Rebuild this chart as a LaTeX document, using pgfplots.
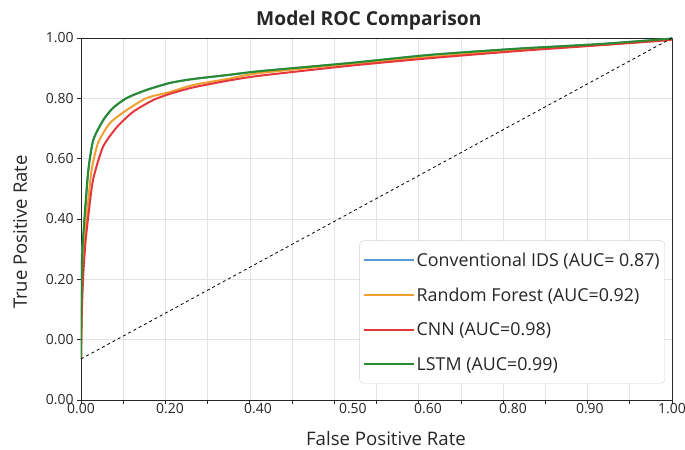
\documentclass[border=0pt]{standalone}
\usepackage{fontspec}
\setmainfont{Open Sans}
\usepackage{pgfplots}
\pgfplotsset{compat=1.18}
\definecolor{cblue}{HTML}{5B9BD5}
\definecolor{corange}{HTML}{F0A030}
\definecolor{cred}{HTML}{E5383D}
\definecolor{cgreen}{HTML}{2A8A2E}
\begin{document}
\begin{tikzpicture}
\begin{axis}[
  width=591bp, height=362bp, scale only axis,
  xmin=0, xmax=1, ymin=-0.2, ymax=1,
  axis line style={black!85, line width=0.9bp},
  xtick={0,0.0714286,0.1428571,0.2142857,0.2857143,0.3571429,0.4285714,0.5,0.5714286,0.6428571,0.7142857,0.7857143,0.8571429,0.9285714,1},
  xticklabels={},
  extra x ticks={0,0.1506,0.2995,0.460,0.587,0.731,0.861,1},
  extra x tick labels={0.00,0.20,0.40,0.50,0.60,0.80,0.90,1.00},
  extra x tick style={grid=none, major tick length=0pt},
  ytick={-0.2,0,0.2,0.4,0.6,0.8,1},
  yticklabels={0.00,0.00,0.20,0.40,0.60,0.80,1.00},
  grid=major, grid style={gray!22, line width=0.6bp},
  tick align=outside, xtick pos=bottom, ytick pos=left, major tick length=4bp,
  tick style={black!85, line width=0.8bp},
  tick label style={font=\fontsize{14}{16}\selectfont, text=black!85},
  /pgf/number format/assume math mode=true,
  title={\textbf{Model ROC Comparison}},
  title style={at={(axis description cs:0.487,1.033)}, anchor=center, font=\fontsize{19.3}{22}\selectfont, text=black!85},
  xlabel={False Positive Rate},
  xlabel style={at={(axis description cs:0.516,-0.106)}, anchor=center, font=\fontsize{18.7}{21}\selectfont, text=black!85},
  ylabel={True Positive Rate},
  ylabel style={at={(axis description cs:-0.103,0.464)}, anchor=center, font=\fontsize{18.6}{21}\selectfont, text=black!85},
  legend style={at={(rel axis cs:0.988,0.045)}, anchor=south east, draw=gray!35, rounded corners=4bp, fill=white,
    font=\fontsize{17.9}{21}\selectfont, text=black!85, inner xsep=3bp, inner ysep=10bp, row sep=16bp},
  legend cell align=left,
  legend image code/.code={\path (-17bp,0bp) -- (33bp,0bp); \draw[#1, line width=2bp] (0bp,0bp) -- (31bp,0bp);},
  every axis plot/.append style={line width=2bp},
]
\addplot[cblue, smooth, tension=0.4] coordinates {
(0,-0.064) (0.0004,0.10) (0.0008,0.20) (0.0015,0.28) (0.0034,0.330) (0.0068,0.410) (0.0124,0.562) (0.0208,0.662) (0.0377,0.728) (0.0541,0.768) (0.0773,0.801) (0.1112,0.828) (0.1506,0.851) (0.1895,0.864) (0.2470,0.877) (0.3029,0.890) (0.455,0.917) (0.5905,0.944) (0.734,0.964) (0.878,0.980) (0.993,0.997) (1,1)};
\addlegendentry{Conventional IDS (AUC= 0.87)}
\addplot[corange, smooth, tension=0.4] coordinates {
(0,-0.064) (0.0012,0.131) (0.0040,0.264) (0.0075,0.360) (0.0118,0.450) (0.0179,0.562) (0.0288,0.652) (0.0491,0.718) (0.0773,0.761) (0.1112,0.801) (0.1506,0.821) (0.1895,0.844) (0.2470,0.864) (0.3029,0.884) (0.455,0.914) (0.5905,0.937) (0.734,0.960) (0.878,0.977) (0.993,0.993) (1,1)};
\addlegendentry{Random Forest (AUC=0.92)}
\addplot[cred, smooth, tension=0.4] coordinates {
(0,-0.064) (0.0015,0.10) (0.0040,0.22) (0.0075,0.32) (0.0118,0.400) (0.0203,0.529) (0.0372,0.639) (0.0609,0.705) (0.0880,0.755) (0.1218,0.794) (0.1506,0.815) (0.1895,0.836) (0.2470,0.858) (0.3029,0.875) (0.455,0.908) (0.5905,0.933) (0.734,0.956) (0.878,0.976) (0.993,0.993) (1,1)};
\addlegendentry{CNN (AUC=0.98)}
\addplot[cgreen, smooth, tension=0.4] coordinates {
(0,-0.064) (0.0008,0.131) (0.0017,0.264) (0.0034,0.330) (0.0068,0.430) (0.0124,0.562) (0.0208,0.662) (0.0377,0.728) (0.0541,0.768) (0.0773,0.801) (0.1112,0.828) (0.1506,0.851) (0.1895,0.864) (0.2470,0.877) (0.3029,0.890) (0.455,0.917) (0.5905,0.944) (0.734,0.964) (0.878,0.980) (0.993,0.997) (1,1)};
\addlegendentry{LSTM (AUC=0.99)}
\addplot[black, dashed, line width=0.8bp, forget plot] coordinates {(0,-0.064) (1,1)};
\end{axis}
\pgfresetboundingbox
\path[use as bounding box] ([shift={(-81bp,-50bp)}]current axis.south west) rectangle ([shift={(13bp,38bp)}]current axis.north east);
\end{tikzpicture}
\end{document}
